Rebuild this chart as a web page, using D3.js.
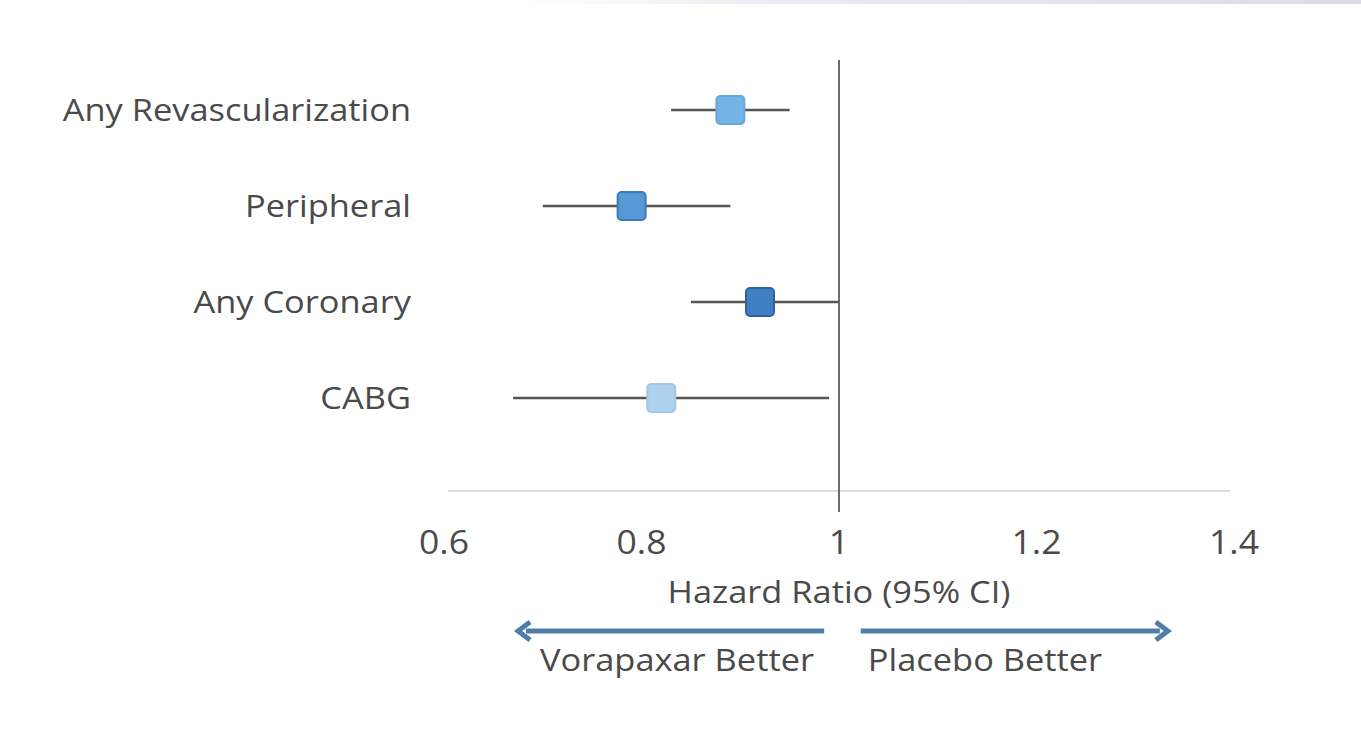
<!DOCTYPE html>
<html>
<head>
<meta charset="utf-8">
<script src="https://cdn.jsdelivr.net/npm/d3@7"></script>
<style>
body { margin: 0; background: #fff; }
text { font-family: "Open Sans", Lato, sans-serif; fill: #4a4a4a; }
</style>
</head>
<body>
<div id="chart"></div>
<script>
// rows, top to bottom
var categories = ['Any Revascularization', 'Peripheral', 'Any Coronary', 'CABG'];
var hazard = [0.89, 0.79, 0.92, 0.82];
var ci_low = [0.83, 0.70, 0.85, 0.67];
var ci_high = [0.95, 0.89, 1.00, 0.99];
var marker_fill = ['#74b3e6', '#5599d6', '#3f7fc2', '#aed1ee'];
var marker_edge = ['#6aa6d8', '#3f79b5', '#2f639e', '#a3c8e6'];
var tick_values = [0.6, 0.8, 1, 1.2, 1.4];
var arrow_labels = ['Vorapaxar Better', 'Placebo Better'];

var width = 1361, height = 738;
var stretch = 1.11; //text in the slide is a bit wider than the font

var svg = d3.select('#chart')
	.append('svg')
	.attr('width', width)
	.attr('height', height);

// faint band along the top edge of the slide
var grad = svg.append('defs').append('linearGradient').attr('id', 'topband');
grad.append('stop').attr('offset', '0%').attr('stop-color', '#ffffff');
grad.append('stop').attr('offset', '30%').attr('stop-color', '#eeeaf4');
grad.append('stop').attr('offset', '100%').attr('stop-color', '#ddd9ea');
svg.append('rect')
	.attr('x', 520).attr('y', 0)
	.attr('width', width - 520).attr('height', 4)
	.style('fill', 'url(#topband)');

var x = d3.scaleLinear().domain([0.6, 1.4]).range([444, 1234]);
var y = d3.scalePoint().domain(categories).range([110, 398]);

//puts a text at (px, py), widened around its anchor point
function place(sel, px, py){
	sel.attr('transform', 'translate(' + px + ',' + py + ') scale(' + stretch + ',1)');
}

// horizontal axis line
svg.append('line')
	.attr('x1', x(0.6) + 4).attr('x2', x(1.4) - 4)
	.attr('y1', 491).attr('y2', 491)
	.style('stroke', '#dcdcdc')
	.style('stroke-width', 2);

// reference line at 1
svg.append('line')
	.attr('x1', x(1)).attr('x2', x(1))
	.attr('y1', 60).attr('y2', 512)
	.style('stroke', '#6b6b6b')
	.style('stroke-width', 2);

// tick labels
var axis = d3.axisBottom(x)
	.tickValues(tick_values)
	.tickSize(0)
	.tickPadding(0)
	.tickFormat(function(d){ return d3.format('')(d); });
var ax = svg.append('g')
	.attr('transform', 'translate(0,543)')
	.call(axis);
ax.select('.domain').remove();
ax.selectAll('text')
	.attr('dy', '0.35em')
	.attr('y', 0)
	.attr('transform', 'scale(' + stretch + ',1)')
	.style('font-size', '32px')
	.style('font-family', '"Open Sans", sans-serif')
	.style('fill', '#4a4a4a');
ax.selectAll('.tick')
	.attr('transform', function(d){ return 'translate(' + x(d) + ',0)'; });

// category labels
svg.selectAll('.cat')
	.data(categories)
	.enter()
	.append('text')
	.attr('class', 'cat')
	.attr('dy', '0.35em')
	.attr('text-anchor', 'end')
	.style('font-size', '31px')
	.each(function(d){ place(d3.select(this), 411, y(d)); })
	.text(function(d){ return d; });

// confidence intervals
svg.selectAll('.ci')
	.data(categories)
	.enter()
	.append('line')
	.attr('class', 'ci')
	.attr('x1', function(d, i){ return x(ci_low[i]); })
	.attr('x2', function(d, i){ return x(ci_high[i]); })
	.attr('y1', function(d){ return y(d); })
	.attr('y2', function(d){ return y(d); })
	.style('stroke', '#555')
	.style('stroke-width', 2.5);

// point estimates
var sq = 28;
svg.selectAll('.marker')
	.data(categories)
	.enter()
	.append('rect')
	.attr('class', 'marker')
	.attr('x', function(d, i){ return x(hazard[i]) - sq / 2; })
	.attr('y', function(d){ return y(d) - sq / 2; })
	.attr('width', sq)
	.attr('height', sq)
	.attr('rx', 4)
	.style('fill', function(d, i){ return marker_fill[i]; })
	.style('stroke', function(d, i){ return marker_edge[i]; })
	.style('stroke-width', 2);

// axis title
place(svg.append('text')
	.attr('dy', '0.35em')
	.attr('text-anchor', 'middle')
	.style('font-size', '31px')
	.text('Hazard Ratio (95% CI)'), x(1), 592);

// direction arrows
var arrow_y = 631;
var arrows = [[x(0.985), x(0.675)], [x(1.022), x(1.333)]];
arrows.forEach(function(a){
	var dir = a[1] > a[0] ? 1 : -1;
	svg.append('line')
		.attr('x1', a[0]).attr('x2', a[1] - dir * 8)
		.attr('y1', arrow_y).attr('y2', arrow_y)
		.style('stroke', '#4f7ea8')
		.style('stroke-width', 5);
	svg.append('path')
		.attr('d', 'M' + (a[1] - dir * 12) + ',' + (arrow_y - 9) +
			' L' + a[1] + ',' + arrow_y +
			' L' + (a[1] - dir * 12) + ',' + (arrow_y + 9))
		.style('fill', 'none')
		.style('stroke', '#4f7ea8')
		.style('stroke-width', 5);
});

svg.selectAll('.dir')
	.data(arrow_labels)
	.enter()
	.append('text')
	.attr('class', 'dir')
	.attr('dy', '0.35em')
	.attr('text-anchor', 'middle')
	.style('font-size', '31px')
	.each(function(d, i){ place(d3.select(this), i == 0 ? 677 : 985, 660); })
	.text(function(d){ return d; });
</script>
</body>
</html>
